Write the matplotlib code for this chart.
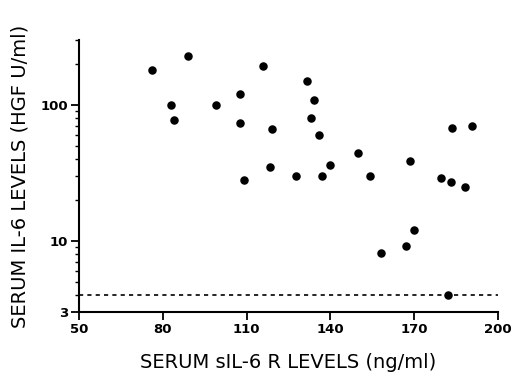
import matplotlib.pyplot as plt
from matplotlib.ticker import FixedLocator, NullFormatter

# serum sIL-6 R (ng/ml) vs serum IL-6 (HGF U/ml)
sil6r = [76, 89, 83, 84, 99, 107.5, 107.5, 109, 116, 119, 118.5, 127.5,
         131.5, 134, 133, 136, 137, 140, 150, 154, 158, 167, 170, 168.5,
         179.5, 183, 183.5, 190.5, 188, 182]
il6 = [180, 228, 100, 78, 100, 120, 74, 28, 195, 66, 35, 30,
       150, 109, 80, 60, 30, 36, 44, 30, 8.2, 9.2, 12, 39,
       29, 27, 68, 70, 25, 4]
detect_limit = 4
x_ticks = [50, 80, 110, 140, 170, 200]
y_ticks = [3, 10, 100]
y_labels = ['3', '10', '100']

plt.rcParams['font.family'] = 'DejaVu Sans'
fig = plt.figure(figsize=(5.14, 3.78), dpi=100)
ax = fig.add_axes([0.1537, 0.1746, 0.8153, 0.7194])

ax.plot([50, 200], [detect_limit, detect_limit], color='black', lw=1.2,
        ls=(0, (2.5, 2.5)), zorder=1)
ax.scatter(sil6r, il6, s=26, color='black', zorder=2)

ax.set_yscale('log')
ax.set_xlim(50, 200)
ax.set_ylim(3, 300)
ax.set_xticks(x_ticks)
ax.set_xticklabels([str(t) for t in x_ticks], fontweight='bold', fontsize=9.5)
ax.set_yticks(y_ticks)
ax.set_yticklabels(y_labels, fontweight='bold', fontsize=9.5)
ax.yaxis.set_minor_locator(FixedLocator([4, 5, 6, 7, 8, 9, 20, 30, 40, 50,
                                         60, 70, 80, 90, 200, 300]))
ax.yaxis.set_minor_formatter(NullFormatter())

for s in ['top', 'right']:
    ax.spines[s].set_visible(False)
for s in ['left', 'bottom']:
    ax.spines[s].set_linewidth(1.5)
ax.tick_params(axis='both', which='major', length=6, width=1.3, pad=2)
ax.tick_params(axis='y', which='minor', length=3, width=1)

ax.set_xlabel('SERUM sIL-6 R LEVELS (ng/ml)', fontsize=14, labelpad=12)
ax.set_ylabel('SERUM IL-6 LEVELS (HGF U/ml)', fontsize=14, labelpad=8)

fig.savefig('out.png', dpi=100)
